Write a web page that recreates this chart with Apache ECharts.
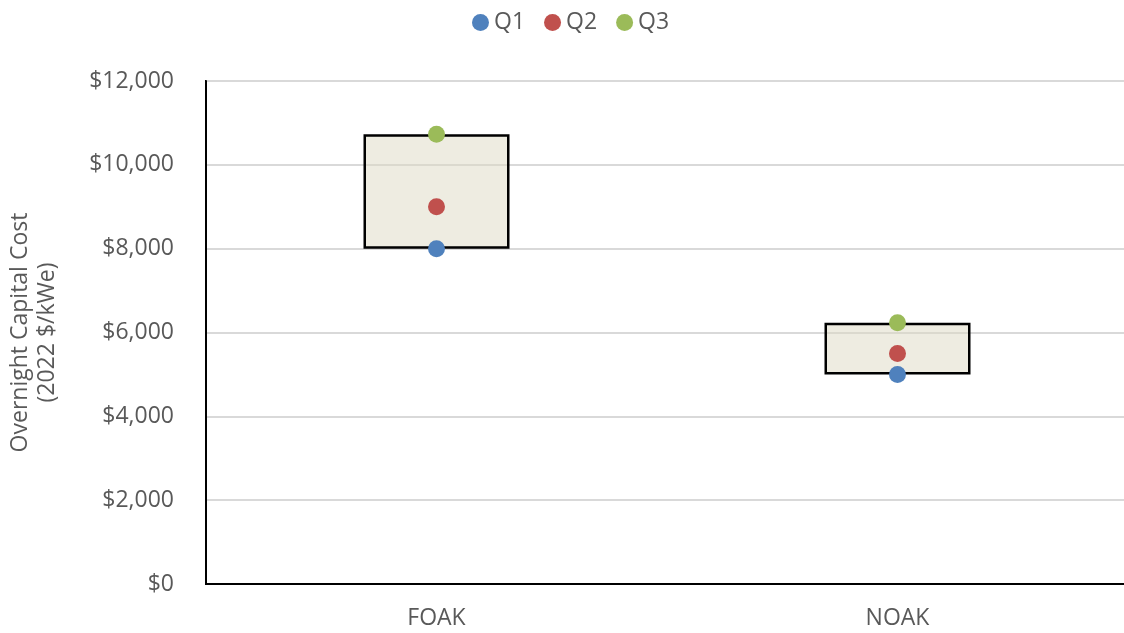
<!DOCTYPE html>
<html>
<head>
<meta charset="utf-8">
<script src="https://cdn.jsdelivr.net/npm/echarts@6/dist/echarts.min.js"></script>
<style>
  html, body { margin: 0; padding: 0; background: #fff; }
  #chart { width: 1124px; height: 633px; }
</style>
</head>
<body>
<div id="chart"></div>
<script>
// categories and quartile values
var categories = ['FOAK', 'NOAK'];
var q1 = [8000, 5000];
var q2 = [9000, 5500];
var q3 = [10730, 6230];
var yTicks = [0, 2000, 4000, 6000, 8000, 10000, 12000];

var fontName = '"Open Sans", sans-serif';
var textGray = '#595959';

var chart = echarts.init(document.getElementById('chart'));

// box goes from Q1 up to Q3: invisible base + visible part
var boxBase = q1.slice();
var boxSpan = q3.map(function (v, i) { return v - q1[i]; });

var option = {
    animation: false,
    legend: {
        data: ['Q1', 'Q2', 'Q3'],
        top: 6,
        left: 467,
        icon: 'circle',
        itemWidth: 17,
        itemHeight: 17,
        itemGap: 19,
        textStyle: { color: textGray, fontSize: 23, fontFamily: fontName }
    },
    grid: {
        left: 206,
        top: 81,
        width: 922,
        height: 503,
        containLabel: false,
        outerBoundsMode: 'none',
        show: true,
        borderColor: '#000',
        borderWidth: 2
    },
    xAxis: {
        type: 'category',
        data: categories,
        boundaryGap: true,
        axisLine: { show: true, lineStyle: { color: '#000', width: 2 } },
        axisTick: { show: false },
        axisLabel: { color: textGray, fontSize: 23, fontFamily: fontName, margin: 23 }
    },
    yAxis: {
        type: 'value',
        min: yTicks[0],
        max: yTicks[yTicks.length - 1],
        interval: 2000,
        name: 'Overnight Capital Cost\n(2022 $/kWe)',
        nameLocation: 'middle',
        nameGap: 145,
        nameTextStyle: { color: textGray, fontSize: 23, fontFamily: fontName, lineHeight: 27 },
        axisLine: { show: true, lineStyle: { color: '#000', width: 2 } },
        axisTick: { show: false },
        splitLine: { lineStyle: { color: '#d9d9d9', width: 2 } },
        axisLabel: {
            color: textGray, fontSize: 23, fontFamily: fontName, margin: 32,
            formatter: function (v) { return '$' + v.toLocaleString('en-US'); }
        }
    },
    series: [
        {
            name: 'base', type: 'bar', stack: 'box', data: boxBase,
            barWidth: 146, silent: true,
            itemStyle: { color: 'transparent' }
        },
        {
            name: 'box', type: 'bar', stack: 'box', data: boxSpan,
            barWidth: 146, silent: true,
            itemStyle: { color: 'rgba(221,217,195,0.5)', borderColor: '#000', borderWidth: 2.5 }
        },
        {
            name: 'Q1', type: 'scatter', data: q1, symbolSize: 17, z: 5,
            itemStyle: { color: '#4f81bd', opacity: 1 }
        },
        {
            name: 'Q2', type: 'scatter', data: q2, symbolSize: 17, z: 5,
            itemStyle: { color: '#c0504d', opacity: 1 }
        },
        {
            name: 'Q3', type: 'scatter', data: q3, symbolSize: 17, z: 5,
            itemStyle: { color: '#9bbb59', opacity: 1 }
        }
    ]
};

chart.setOption(option);
</script>
</body>
</html>
